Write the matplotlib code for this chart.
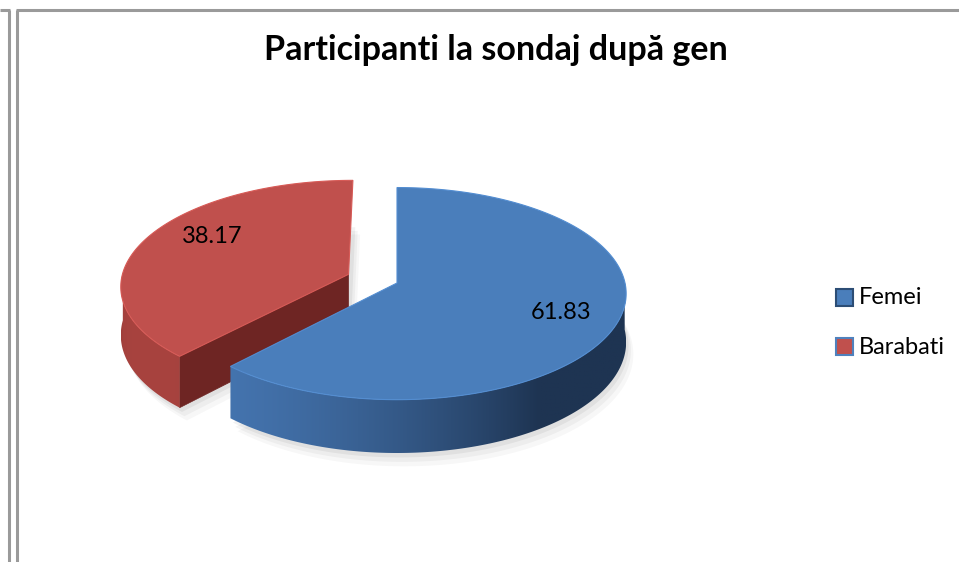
import numpy as np
import matplotlib.pyplot as plt
from matplotlib.patches import Polygon, Rectangle
from matplotlib.colors import to_rgb

# data
categories = ['Femei', 'Barabati']
values = [61.83, 38.17]
labels = ['61.83', '38.17']
title = 'Participanti la sondaj după gen'

# styling
top_colors = ['#4a7ebb', '#c0504d']
side_light = ['#4575b0', '#a8433f']
side_dark = ['#1e3452', '#6e2523']
explode = [0.0, 0.23]

# pie geometry in pixel space
cx, cy = 397, 283
rx, ry = 228, 105
depth = 48
persp = 0.10
light_ang = np.deg2rad(215)

W, H = 959, 562
fig = plt.figure(figsize=(W / 100, H / 100), dpi=100)
ax = fig.add_axes([0, 0, 1, 1])
ax.set_xlim(0, W)
ax.set_ylim(H, 0)
ax.axis('off')


def proj(X, Y, z=0.0):
    s = 1.0 / (1.0 + persp * Y)
    return cx + rx * X * s, cy - ry * Y * s + z * s


def shade(i, normal_ang):
    f = max(0.0, np.cos(normal_ang - light_ang))
    a, b = np.array(to_rgb(side_dark[i])), np.array(to_rgb(side_light[i]))
    return tuple(a + (b - a) * f)


# slice angles, start at 12 o'clock, clockwise
total = sum(values)
angles = []
start = 90.0
for v in values:
    sweep = 360.0 * v / total
    angles.append((start - sweep, start))
    start -= sweep


def draw_slice(i, z0):
    a1, a2 = np.deg2rad(angles[i][0]), np.deg2rad(angles[i][1])
    mid = 0.5 * (a1 + a2)
    ox, oy = explode[i] * np.cos(mid), explode[i] * np.sin(mid)

    # soft shadow under the slice
    t = np.linspace(a1, a2, 400)
    for k, a in enumerate([0.05, 0.04, 0.03]):
        grow = 4 + 4 * k
        pts = [proj(ox, oy, depth + grow)] + \
              [proj(ox + np.cos(b), oy + np.sin(b), depth + grow) for b in t]
        pts = [(x + grow * 0.6, y) for x, y in pts]
        ax.add_patch(Polygon(pts, closed=True, facecolor='black', alpha=a,
                             edgecolor='none', zorder=z0 - 0.5))

    # radial faces facing the viewer
    for a, nrm in ((a1, a1 - np.pi / 2), (a2, a2 + np.pi / 2)):
        if np.sin(nrm) < -0.05:
            pts = [proj(ox, oy, 0), proj(ox + np.cos(a), oy + np.sin(a), 0),
                   proj(ox + np.cos(a), oy + np.sin(a), depth), proj(ox, oy, depth)]
            ax.add_patch(Polygon(pts, closed=True, facecolor=shade(i, nrm),
                                 edgecolor=shade(i, nrm), lw=0.5, zorder=z0))

    # curved outer side, front half only, shaded with a clipped gradient
    tf = t[np.sin(t) < 0.02]
    if len(tf) > 1:
        top = [proj(ox + np.cos(b), oy + np.sin(b), 0) for b in tf]
        bot = [proj(ox + np.cos(b), oy + np.sin(b), depth) for b in tf[::-1]]
        side = Polygon(top + bot, closed=True, facecolor='none', edgecolor='none', zorder=z0)
        ax.add_patch(side)
        xs = np.array([p[0] for p in top])
        order = np.argsort(xs)
        x0, x1 = xs.min(), xs.max()
        ys = [p[1] for p in top + bot]
        grid_x = np.linspace(x0, x1, 300)
        ang_at_x = np.interp(grid_x, xs[order], tf[order])
        row = np.array([shade(i, b) for b in ang_at_x])
        img = np.repeat(row[None, :, :], 2, axis=0)
        im = ax.imshow(img, extent=(x0, x1, max(ys), min(ys)), aspect='auto',
                       interpolation='bilinear', zorder=z0)
        im.set_clip_path(side)

    # top face
    pts = [proj(ox, oy, 0)] + [proj(ox + np.cos(a), oy + np.sin(a), 0) for a in t]
    ax.add_patch(Polygon(pts, closed=True, facecolor=top_colors[i],
                         edgecolor=tuple(np.clip(np.array(to_rgb(top_colors[i])) * 1.12, 0, 1)),
                         lw=0.8, zorder=z0 + 0.2))

    # data label
    r = 0.75 if i == 0 else 0.70
    lx, ly = proj(ox + r * np.cos(mid), oy + r * np.sin(mid), 0)
    if i == 1:
        lx += 6
        ly -= 12
    ax.text(lx, ly, labels[i], ha='center', va='center', fontsize=17,
            family='Lato', color='black', zorder=10)


# back slice first, then the front one
draw_slice(1, 2)
draw_slice(0, 4)

# title
fig.text(496 / W, 1 - 60 / H, title, ha='center', va='baseline',
         fontsize=24.5, fontweight='bold', family='Lato')

# legend
edge_cols = ['#2c4d75', '#4f81bd']
for i, name in enumerate(categories):
    ly = 298 + i * 49
    ax.add_patch(Rectangle((836, ly - 9), 17, 17, facecolor=top_colors[i],
                           edgecolor=edge_cols[i], lw=1.5, zorder=10))
    ax.text(859, ly, name, ha='left', va='center', fontsize=17, family='Lato', zorder=10)

# frame lines of the sheet
frame = '#9a9a9a'
ax.plot([8.5, 8.5], [10, H], color=frame, lw=2.2, solid_capstyle='butt')
ax.plot([0, 9.5], [10, 10], color=frame, lw=2.2, solid_capstyle='butt')
ax.plot([16.5, 16.5], [10, H], color=frame, lw=2.2, solid_capstyle='butt')
ax.plot([15.5, W], [10, 10], color=frame, lw=2.2, solid_capstyle='butt')

fig.savefig('out.png', dpi=100)
